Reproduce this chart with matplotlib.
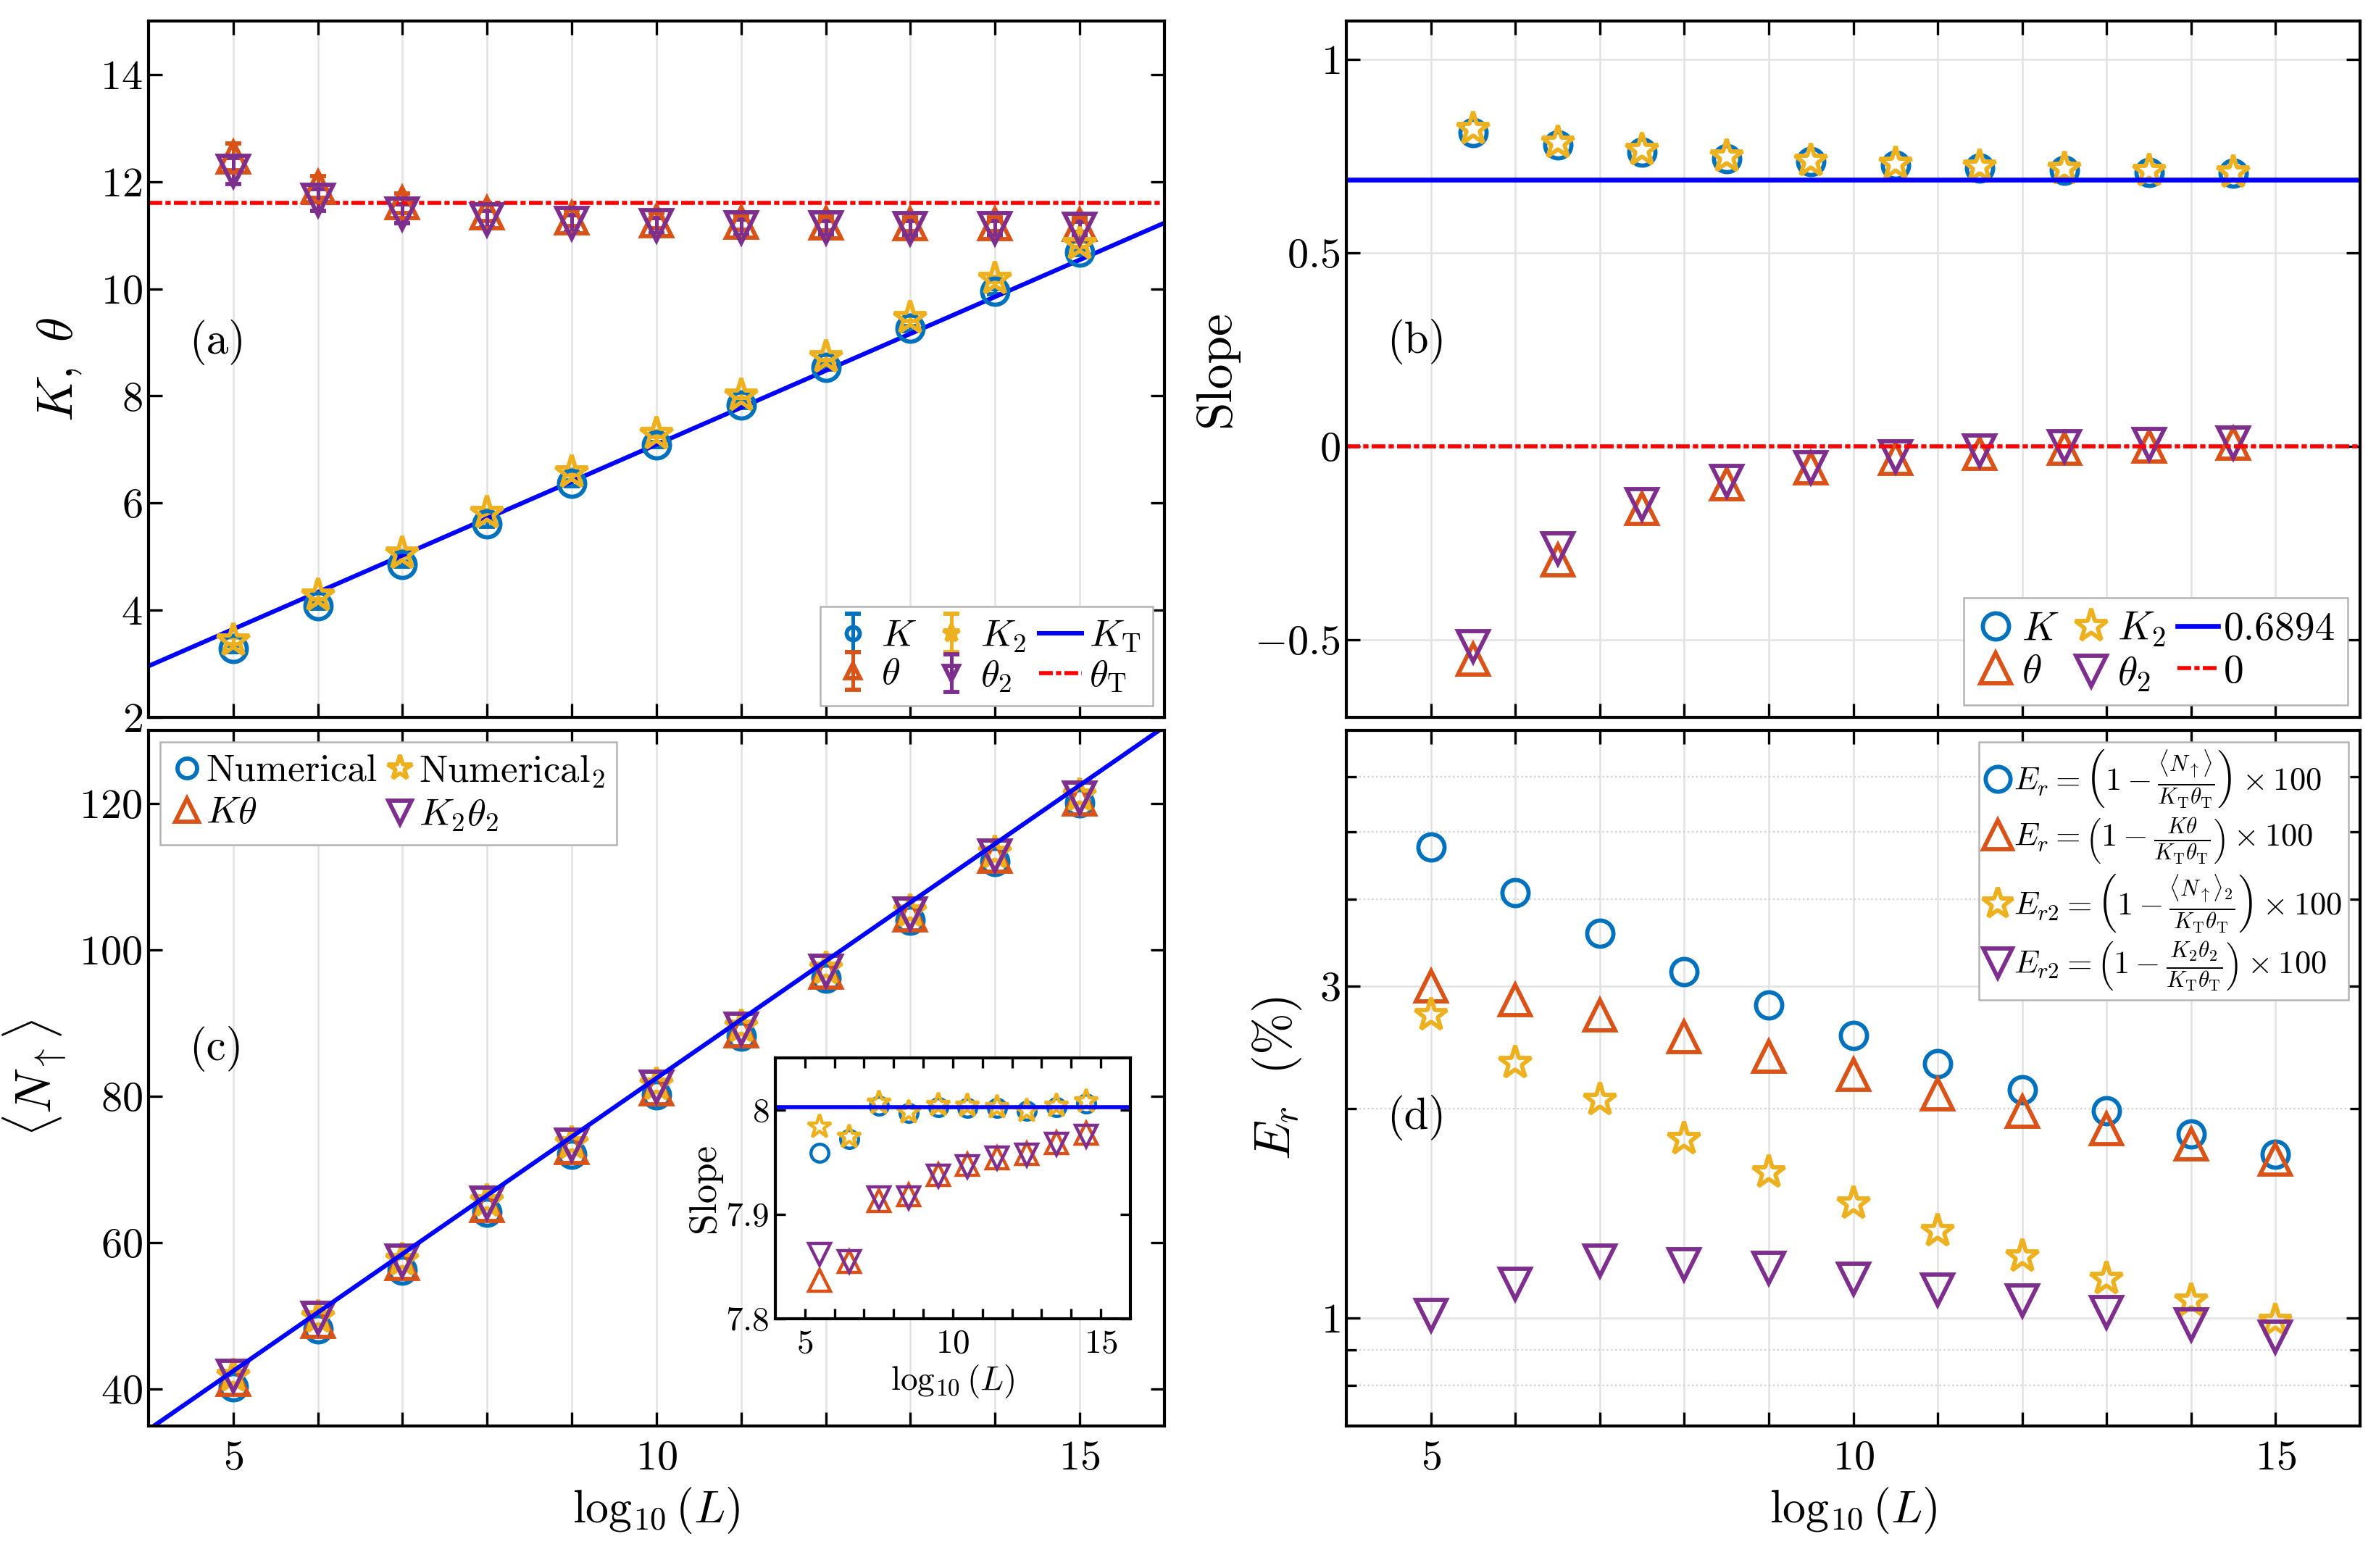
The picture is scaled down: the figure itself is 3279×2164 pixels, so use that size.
import numpy as np
import matplotlib
matplotlib.use('Agg')
import matplotlib.pyplot as plt
from matplotlib.ticker import FixedLocator, FuncFormatter, NullFormatter

plt.rcParams.update({
    'font.family': 'serif',
    'font.serif': ['cmr10'],
    'mathtext.fontset': 'cm',
    'axes.unicode_minus': False,
    'axes.linewidth': 1.3,
    'legend.fancybox': False,
})

# ---------------- data ----------------
logL = [5, 6, 7, 8, 9, 10, 11, 12, 13, 14, 15]
logL_mid = [5.5, 6.5, 7.5, 8.5, 9.5, 10.5, 11.5, 12.5, 13.5, 14.5]

# panel (a)
K_vals = [3.28, 4.09, 4.86, 5.61, 6.37, 7.09, 7.83, 8.54, 9.26, 9.95, 10.68]
K2_vals = [3.43, 4.27, 5.06, 5.82, 6.57, 7.29, 8.01, 8.72, 9.45, 10.18, 10.83]
theta_vals = [12.46, 11.90, 11.60, 11.42, 11.32, 11.27, 11.24, 11.22, 11.21, 11.21, 11.20]
theta2_vals = [12.20, 11.66, 11.40, 11.30, 11.22, 11.18, 11.15, 11.14, 11.13, 11.13, 11.12]
K_err = [0.06, 0.06, 0.05, 0.05, 0.05, 0.05, 0.05, 0.05, 0.05, 0.05, 0.05]
K2_err = [0.06, 0.06, 0.05, 0.05, 0.05, 0.05, 0.05, 0.05, 0.05, 0.05, 0.05]
theta_err = [0.25, 0.20, 0.18, 0.16, 0.15, 0.14, 0.14, 0.13, 0.13, 0.13, 0.13]
theta2_err = [0.25, 0.20, 0.18, 0.16, 0.15, 0.14, 0.14, 0.13, 0.13, 0.13, 0.13]
KT_slope = 0.6894
KT_intercept = 0.20
theta_T = 11.6

# panel (b)
slope_K = [0.811, 0.780, 0.761, 0.745, 0.736, 0.727, 0.720, 0.714, 0.709, 0.706]
slope_K2 = [0.820, 0.786, 0.766, 0.749, 0.739, 0.731, 0.724, 0.717, 0.713, 0.709]
slope_theta = [-0.550, -0.293, -0.160, -0.096, -0.056, -0.032, -0.018, -0.006, 0.000, 0.008]
slope_theta2 = [-0.517, -0.263, -0.150, -0.090, -0.053, -0.026, -0.010, 0.000, 0.006, 0.010]
slope_ref = 0.6894
zero_ref = 0.0

# panel (c)
N_num = [40.3, 48.3, 56.3, 64.2, 72.1, 80.2, 88.2, 96.2, 104.1, 112.1, 120.1]
N_num2 = [41.8, 49.8, 57.7, 65.7, 73.6, 81.6, 89.5, 97.4, 105.3, 113.3, 121.1]
N_Ktheta = [41.3, 49.2, 57.2, 65.1, 73.0, 81.0, 88.9, 96.9, 104.8, 112.8, 120.6]
N_K2theta2 = [41.8, 49.7, 57.6, 65.5, 73.4, 81.3, 89.2, 97.1, 105.0, 112.9, 120.8]
N_slope = 8.0
N_intercept = 2.5

# inset of (c)
ins_num = [7.959, 7.972, 8.004, 7.997, 8.003, 8.002, 8.002, 7.999, 8.003, 8.006]
ins_num2 = [7.984, 7.974, 8.007, 7.998, 8.005, 8.004, 8.003, 7.999, 8.004, 8.008]
ins_Ktheta = [7.837, 7.855, 7.913, 7.919, 7.938, 7.948, 7.954, 7.958, 7.969, 7.978]
ins_K2theta2 = [7.862, 7.855, 7.916, 7.916, 7.937, 7.946, 7.954, 7.957, 7.967, 7.975]
ins_ref = 8.003

# panel (d)
Er_N = [4.76, 4.09, 3.58, 3.15, 2.82, 2.55, 2.32, 2.13, 1.985, 1.84, 1.72]
Er_Ktheta = [3.00, 2.87, 2.73, 2.54, 2.38, 2.24, 2.10, 1.98, 1.87, 1.78, 1.69]
Er2_N2 = [2.73, 2.33, 2.06, 1.81, 1.62, 1.46, 1.335, 1.227, 1.14, 1.06, 0.99]
Er2_K2theta2 = [1.01, 1.12, 1.21, 1.195, 1.18, 1.14, 1.10, 1.06, 1.02, 0.98, 0.94]

x_major = [5, 6, 7, 8, 9, 10, 11, 12, 13, 14, 15]
x_labeled = [5, 10, 15]

# ---------------- styles ----------------
C_BLUE = '#0072BD'
C_ORANGE = '#D95319'
C_YELLOW = '#EDB120'
C_PURPLE = '#7E2F8E'
C_LINE = '#0000FF'
C_RED = '#FF0000'
GRID = '#e3e3e3'
DASHDOT = (0, (3.4, 0.8, 1.3, 0.8))

MS = {'o': 13, '^': 15, '*': 17, 'v': 15}
MEW = 2.1


def mstyle(marker, color, scale=1.0, mew=MEW):
    return dict(marker=marker, ls='none', ms=MS[marker] * scale, mfc='none',
                mec=color, mew=mew)


def xfmt(v, p):
    return f'${int(round(v))}$' if int(round(v)) in x_labeled else ''


def yfmt(v, p):
    return f'${v:g}$'


def setup_axis(ax, labels=True, fs=21, length=7):
    ax.set_xlim(4, 16)
    ax.xaxis.set_major_locator(FixedLocator(x_major))
    if labels:
        ax.xaxis.set_major_formatter(FuncFormatter(xfmt))
    else:
        ax.xaxis.set_major_formatter(NullFormatter())
    ax.tick_params(which='both', direction='in', top=True, right=True,
                   labelsize=fs, width=1.2)
    ax.tick_params(which='major', length=length)
    ax.tick_params(which='minor', length=length * 0.7)
    ax.tick_params(axis='x', pad=7)
    ax.tick_params(axis='y', pad=3)
    for s in ax.spines.values():
        s.set_linewidth(1.5)
    ax.set_axisbelow(True)


def style_legend(leg):
    fr = leg.get_frame()
    fr.set_edgecolor('#b4b4b4')
    fr.set_linewidth(0.9)
    fr.set_alpha(1)


fig = plt.figure(figsize=(16.4, 10.82), dpi=200)
ax_a = fig.add_axes([0.0625, 0.5425, 0.4274, 0.4441])
ax_b = fig.add_axes([0.5665, 0.5425, 0.4265, 0.4441])
ax_c = fig.add_axes([0.0625, 0.0906, 0.4274, 0.4436])
ax_d = fig.add_axes([0.5665, 0.0906, 0.4265, 0.4436])
ax_i = fig.add_axes([0.3262, 0.159, 0.1494, 0.1664])

# ---------------- panel (a) ----------------
ax = ax_a
eb_kw = dict(elinewidth=1.8, capsize=4, capthick=1.8)
eK = ax.errorbar(logL, K_vals, yerr=K_err, color=C_BLUE, **mstyle('o', C_BLUE), **eb_kw)
eTh = ax.errorbar(logL, theta_vals, yerr=theta_err, color=C_ORANGE, **mstyle('^', C_ORANGE), **eb_kw)
eK2 = ax.errorbar(logL, K2_vals, yerr=K2_err, color=C_YELLOW, **mstyle('*', C_YELLOW), **eb_kw)
eTh2 = ax.errorbar(logL, theta2_vals, yerr=theta2_err, color=C_PURPLE, **mstyle('v', C_PURPLE), **eb_kw)
lKT = ax.axline((0, KT_intercept), slope=KT_slope, color=C_LINE, lw=2.2)
lThT = ax.axhline(theta_T, color=C_RED, lw=2.0, ls=DASHDOT)
setup_axis(ax, labels=False)
ax.set_ylim(2, 15)
ax.yaxis.set_major_locator(FixedLocator([2, 4, 6, 8, 10, 12, 14]))
ax.yaxis.set_major_formatter(FuncFormatter(yfmt))
ax.grid(True, axis='x', color=GRID, lw=0.9)
ax.set_ylabel(r'$K,\ \theta$', fontsize=25, labelpad=8)
ax.text(0.04, 0.538, '(a)', transform=ax.transAxes, fontsize=22, va='center', ha='left')
leg = ax.legend([eK, eTh, eK2, eTh2, lKT, lThT],
                [r'$K$', r'$\theta$', r'$K_2$', r'$\theta_2$', r'$K_{\mathrm{T}}$', r'$\theta_{\mathrm{T}}$'],
                ncol=3, loc='lower right', fontsize=19, markerscale=0.5,
                handlelength=1.1, handletextpad=0.2, columnspacing=0.35,
                borderaxespad=0.3, labelspacing=0.1, borderpad=0.3)
style_legend(leg)

# ---------------- panel (b) ----------------
ax = ax_b
hK, = ax.plot(logL_mid, slope_K, **mstyle('o', C_BLUE))
hTh, = ax.plot(logL_mid, slope_theta, **mstyle('^', C_ORANGE))
hK2, = ax.plot(logL_mid, slope_K2, **mstyle('*', C_YELLOW))
hTh2, = ax.plot(logL_mid, slope_theta2, **mstyle('v', C_PURPLE))
hRef = ax.axhline(slope_ref, color=C_LINE, lw=2.4)
hZero = ax.axhline(zero_ref, color=C_RED, lw=2.0, ls=DASHDOT)
setup_axis(ax, labels=False)
ax.set_ylim(-0.7, 1.1)
ax.yaxis.set_major_locator(FixedLocator([-0.5, 0, 0.5, 1]))
ax.yaxis.set_major_formatter(FuncFormatter(yfmt))
ax.grid(True, color=GRID, lw=0.9)
ax.set_ylabel('Slope', fontsize=25, labelpad=8)
ax.text(0.04, 0.54, '(b)', transform=ax.transAxes, fontsize=22, va='center', ha='left')
leg = ax.legend([hK, hTh, hK2, hTh2, hRef, hZero],
                [r'$K$', r'$\theta$', r'$K_2$', r'$\theta_2$', '0.6894', '0'],
                ncol=3, loc='lower right', fontsize=20,
                handlelength=1.0, handletextpad=0.15, columnspacing=0.3,
                borderaxespad=0.3, labelspacing=0.15, borderpad=0.3)
style_legend(leg)

# ---------------- panel (c) ----------------
ax = ax_c
cN, = ax.plot(logL, N_num, **mstyle('o', C_BLUE))
cKt, = ax.plot(logL, N_Ktheta, **mstyle('^', C_ORANGE))
cN2, = ax.plot(logL, N_num2, **mstyle('*', C_YELLOW))
cK2t2, = ax.plot(logL, N_K2theta2, **mstyle('v', C_PURPLE))
ax.axline((0, N_intercept), slope=N_slope, color=C_LINE, lw=2.2)
setup_axis(ax, labels=True)
ax.set_ylim(35, 130)
ax.yaxis.set_major_locator(FixedLocator([40, 60, 80, 100, 120]))
ax.yaxis.set_major_formatter(FuncFormatter(yfmt))
ax.grid(True, axis='x', color=GRID, lw=0.9)
ax.set_ylabel(r'$\langle N_{\uparrow}\rangle$', fontsize=25, labelpad=6)
ax.set_xlabel(r'$\log_{10}(L)$', fontsize=23, labelpad=4)
ax.text(0.04, 0.542, '(c)', transform=ax.transAxes, fontsize=22, va='center', ha='left')
leg = ax.legend([cN, cKt, cN2, cK2t2],
                ['Numerical', r'$K\theta$', r'Numerical$_2$', r'$K_2\theta_2$'],
                ncol=2, loc='upper left', fontsize=19, markerscale=0.75,
                handlelength=0.8, handletextpad=0.1, columnspacing=0.2,
                borderaxespad=0.3, labelspacing=0.2, borderpad=0.3)
style_legend(leg)

# ---------------- inset ----------------
ax = ax_i
ax.plot(logL_mid, ins_num, **mstyle('o', C_BLUE, 0.68, 1.6))
ax.plot(logL_mid, ins_Ktheta, **mstyle('^', C_ORANGE, 0.72, 1.6))
ax.plot(logL_mid, ins_num2, **mstyle('*', C_YELLOW, 0.72, 1.6))
ax.plot(logL_mid, ins_K2theta2, **mstyle('v', C_PURPLE, 0.72, 1.6))
ax.axhline(ins_ref, color=C_LINE, lw=2.0)
setup_axis(ax, labels=True, fs=17, length=5)
ax.tick_params(axis='x', pad=5)
ax.set_ylim(7.8, 8.05)
ax.yaxis.set_major_locator(FixedLocator([7.8, 7.9, 8.0]))
ax.yaxis.set_major_formatter(FuncFormatter(yfmt))
ax.set_ylabel('Slope', fontsize=19, labelpad=2)
ax.set_xlabel(r'$\log_{10}(L)$', fontsize=17, labelpad=2)

# ---------------- panel (d) ----------------
ax = ax_d
dN, = ax.plot(logL, Er_N, **mstyle('o', C_BLUE))
dKt, = ax.plot(logL, Er_Ktheta, **mstyle('^', C_ORANGE))
dN2, = ax.plot(logL, Er2_N2, **mstyle('*', C_YELLOW))
dK2t2, = ax.plot(logL, Er2_K2theta2, **mstyle('v', C_PURPLE))
ax.set_yscale('log')
setup_axis(ax, labels=True)
ax.set_ylim(0.7, 7)
ax.yaxis.set_major_locator(FixedLocator([1, 3]))
ax.yaxis.set_major_formatter(FuncFormatter(yfmt))
ax.yaxis.set_minor_locator(FixedLocator([0.8, 0.9, 2, 4, 5, 6]))
ax.yaxis.set_minor_formatter(NullFormatter())
ax.grid(True, which='major', color=GRID, lw=0.9)
ax.grid(True, which='minor', axis='y', color='#cfcfcf', lw=0.8, ls=':')
ax.set_ylabel(r'$E_r\ \ (\%)$', fontsize=25, labelpad=8)
ax.set_xlabel(r'$\log_{10}(L)$', fontsize=23, labelpad=4)
ax.text(0.04, 0.443, '(d)', transform=ax.transAxes, fontsize=22, va='center', ha='left')
leg = ax.legend([dN, dKt, dN2, dK2t2],
                [r'$E_r=\left(1-\frac{\langle N_{\uparrow}\rangle}{K_{\mathrm{T}}\theta_{\mathrm{T}}}\right)\times 100$',
                 r'$E_r=\left(1-\frac{K\theta}{K_{\mathrm{T}}\theta_{\mathrm{T}}}\right)\times 100$',
                 r'$E_{r2}=\left(1-\frac{\langle N_{\uparrow}\rangle_2}{K_{\mathrm{T}}\theta_{\mathrm{T}}}\right)\times 100$',
                 r'$E_{r2}=\left(1-\frac{K_2\theta_2}{K_{\mathrm{T}}\theta_{\mathrm{T}}}\right)\times 100$'],
                loc='upper right', fontsize=16, markerscale=0.95,
                handlelength=0.8, handletextpad=0.1, borderaxespad=0.35,
                labelspacing=0.2, borderpad=0.2)
style_legend(leg)

fig.savefig('out.png', dpi=200)
